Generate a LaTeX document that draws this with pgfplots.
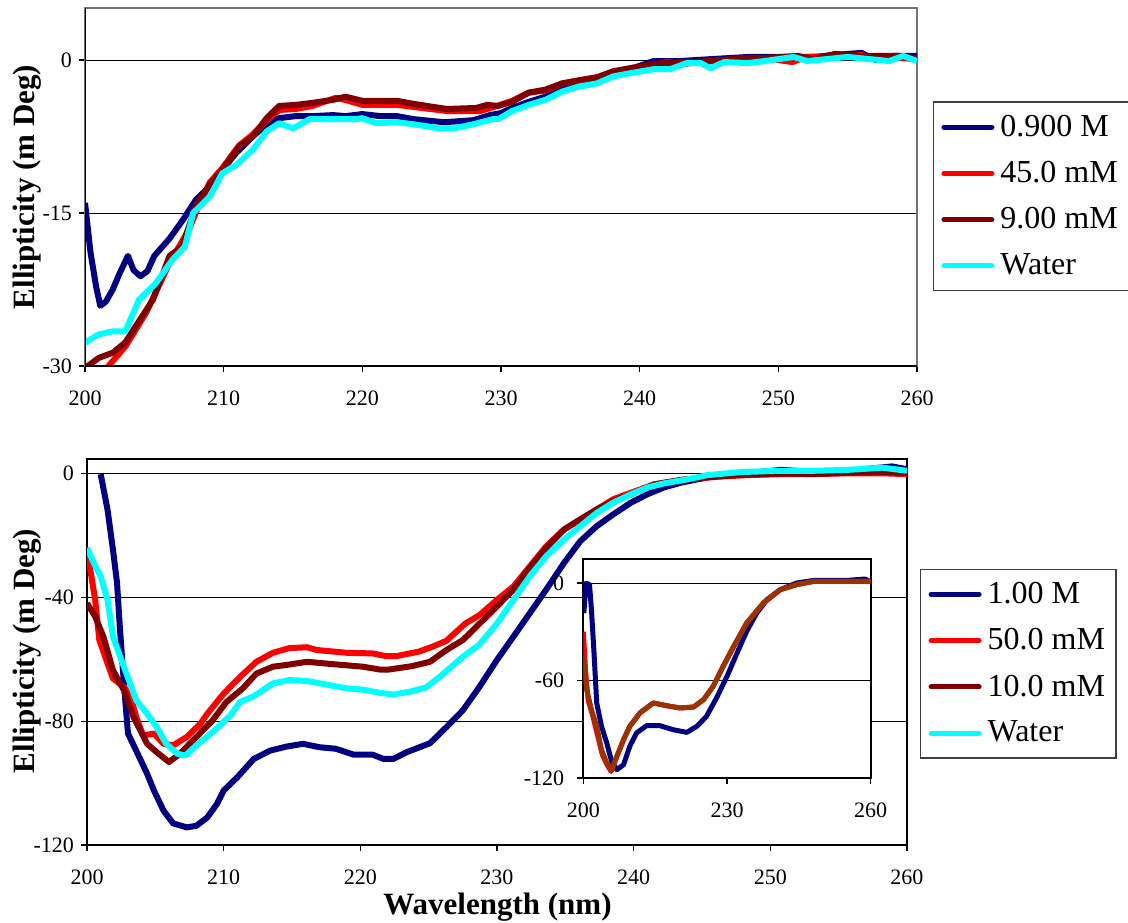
\documentclass[border=0pt]{standalone}
\usepackage{pgfplots}
\pgfplotsset{compat=1.18}
\usepackage{fontspec}
\setmainfont{Liberation Serif}
\definecolor{cnavy}{HTML}{000080}
\definecolor{cred}{HTML}{FF0000}
\definecolor{cdark}{HTML}{800000}
\definecolor{ccyan}{HTML}{00FFFF}
\definecolor{cbrown}{HTML}{993300}
\pgfplotsset{
  myleg/.style={
    legend cell align=left,
    legend image code/.code={\draw[##1, line width=2.5pt, line cap=round] (0pt,0pt) -- (24pt,0pt);},
    legend style={draw=black!75, line width=0.6pt, fill=white,
      font=\fontsize{16}{19}\selectfont, row sep=8pt, inner xsep=4pt, inner ysep=5pt,
      nodes={inner sep=1.5pt},
      /tikz/every odd column/.append style={column sep=1.5pt}},
  },
  curve/.style={line width=3pt, line join=round, no markers},
}
\begin{document}
\begin{tikzpicture}[x=1pt,y=1pt]
\path[use as bounding box] (0,0) rectangle (564,-461);

% ---------------- top chart ----------------
\begin{axis}[at={(42.5pt,-183pt)}, anchor=south west, scale only axis,
  width=416pt, height=179pt,
  xmin=200, xmax=260, ymin=-30, ymax=5.1,
  xtick={200,210,...,260}, xticklabels={200,210,220,230,240,250,260},
  ytick={-30,-15,0}, yticklabels={-30,-15,{0\hspace{4.5pt}}},
  ymajorgrids, grid style={black, line width=0.5pt},
  axis line style={black!55, line width=0.7pt},
  tick align=outside, tick pos=left, major tick length=3pt,
  tick style={black, line width=0.6pt},
  ticklabel style={font=\fontsize{11}{13}\selectfont},
  xticklabel style={yshift=-6pt},
  myleg,
  legend style={at={(1.019,0.4735)}, anchor=west},
]
\addplot[curve, cnavy] coordinates {
(200.0,-14.0)(200.4,-18.9)(200.8,-22.2)(201.1,-24.1)(201.5,-23.7)(202.0,-22.5)
(202.5,-20.9)(203.1,-19.2)(203.5,-20.6)(204.0,-21.2)(204.5,-20.7)(205.0,-19.2)
(206.1,-17.5)(207.0,-15.8)(208.0,-13.7)(209.0,-12.4)(209.9,-10.8)(210.9,-9.1)
(212.1,-7.5)(213.1,-6.3)(214.0,-5.7)(215.2,-5.5)(216.4,-5.5)(217.9,-5.4)
(218.8,-5.5)(220.0,-5.3)(221.3,-5.5)(222.5,-5.5)(223.7,-5.8)(225.9,-6.1)
(228.0,-5.9)(229.2,-5.4)(230.0,-5.2)(230.8,-4.7)(232.0,-4.1)(233.2,-3.6)
(234.4,-2.7)(235.6,-2.4)(236.9,-1.9)(238.1,-1.3)(239.3,-0.9)(241.0,-0.1)
(242.9,-0.1)(245.3,0.1)(247.8,0.3)(250.2,0.3)(252.6,0.3)(254.1,0.5)
(256.0,0.7)(257.0,0.0)(258.2,0.4)(260.0,0.4)};
\addlegendentry{0.900 M}
\addplot[curve, cred] coordinates {
(200.0,-32.0)(201.5,-30.3)(202.9,-28.1)(204.4,-24.8)(206.1,-19.9)(207.5,-16.6)
(208.2,-14.3)(209.0,-12.0)(209.9,-10.6)(211.1,-8.4)(212.1,-7.3)(213.1,-5.9)
(214.0,-4.9)(215.2,-4.8)(216.4,-4.5)(218.1,-3.7)(219.0,-4.0)(220.0,-4.4)
(222.5,-4.4)(223.7,-4.6)(226.1,-5.0)(228.5,-5.0)(229.5,-4.6)(230.8,-4.0)
(232.0,-3.2)(233.2,-3.0)(234.4,-2.3)(235.6,-2.0)(236.9,-1.7)(238.1,-1.2)
(239.3,-0.9)(241.0,-0.5)(242.0,-0.2)(243.0,-0.4)(245.3,-0.1)(247.3,0.1)
(249.0,0.2)(251.0,-0.2)(252.0,0.3)(254.1,0.4)(256.0,0.5)(257.5,0.0)
(258.6,0.2)(260.0,0.1)};
\addlegendentry{45.0 mM}
\addplot[curve, cdark] coordinates {
(200.0,-30.2)(201.0,-29.2)(202.0,-28.7)(202.9,-27.7)(203.9,-25.6)(204.9,-23.5)
(206.1,-19.2)(207.0,-18.3)(208.0,-14.3)(209.0,-12.2)(209.9,-10.8)(211.1,-8.5)
(212.1,-7.5)(213.1,-5.7)(214.0,-4.5)(215.2,-4.4)(216.4,-4.2)(217.9,-3.9)
(218.8,-3.6)(220.0,-4.0)(222.5,-4.0)(223.7,-4.3)(226.1,-4.8)(228.2,-4.7)
(229.0,-4.4)(229.8,-4.5)(230.8,-4.1)(232.0,-3.2)(233.2,-2.9)(234.4,-2.3)
(235.6,-2.0)(236.9,-1.7)(238.1,-1.1)(239.3,-0.8)(241.0,-0.4)(242.9,-0.2)
(245.3,-0.1)(247.3,0.2)(249.0,0.2)(251.4,0.4)(252.5,0.1)(254.1,0.6)
(256.2,0.4)(258.6,0.4)(260.0,0.1)};
\addlegendentry{9.00 mM}
\addplot[curve, ccyan] coordinates {
(200.0,-27.7)(201.0,-26.9)(202.0,-26.6)(202.9,-26.6)(203.9,-23.5)(205.1,-21.9)
(206.3,-19.6)(207.2,-18.3)(207.8,-15.0)(209.0,-13.4)(209.9,-11.1)(210.9,-10.3)
(212.1,-8.8)(213.1,-7.0)(214.0,-6.2)(215.0,-6.7)(216.2,-5.8)(217.6,-5.8)
(219.5,-5.8)(220.0,-5.7)(221.0,-6.2)(222.5,-6.1)(223.7,-6.3)(225.6,-6.7)
(226.6,-6.7)(228.0,-6.3)(229.4,-5.8)(229.8,-5.8)(230.8,-5.0)(232.0,-4.4)
(233.2,-3.9)(234.4,-3.1)(235.6,-2.6)(236.9,-2.3)(238.1,-1.6)(239.3,-1.3)
(241.0,-0.9)(242.2,-0.9)(243.4,-0.3)(244.4,-0.3)(245.1,-0.8)(246.1,-0.2)
(247.8,-0.3)(249.0,-0.1)(251.1,0.3)(252.1,-0.1)(255.0,0.3)(258.0,-0.1)
(259.0,0.4)(260.0,-0.1)};
\addlegendentry{Water}
\draw[black, line width=0.7pt] (rel axis cs:0,1) -- (rel axis cs:0,0) -- (rel axis cs:1,0);
\end{axis}

% ---------------- bottom chart ----------------
\begin{axis}[at={(43.5pt,-422.5pt)}, anchor=south west, scale only axis,
  width=410pt, height=193pt,
  xmin=200, xmax=260, ymin=-120, ymax=4.7,
  xtick={200,210,...,260}, xticklabels={200,210,220,230,240,250,260},
  ytick={-120,-80,-40,0}, yticklabels={-120,-80,-40,{0\hspace{4pt}}},
  ymajorgrids, grid style={black, line width=0.5pt},
  axis line style={black, line width=0.9pt},
  tick align=outside, tick pos=left, major tick length=3pt,
  tick style={black, line width=0.6pt},
  ticklabel style={font=\fontsize{11}{13}\selectfont},
  xticklabel style={yshift=-6pt},
  myleg,
  legend style={at={(1.0159,0.47)}, anchor=west},
]
\addplot[curve, cnavy] coordinates {
(201.0,-0.2)(201.5,-11.6)(201.9,-24.6)(202.2,-35.4)(202.4,-49.4)(202.7,-67.8)
(203.0,-84.0)(203.6,-89.5)(204.4,-97.0)(204.9,-102.4)(205.6,-108.9)(206.3,-113.0)
(207.3,-114.3)(208.0,-113.8)(208.8,-111.1)(209.5,-106.8)(210.0,-102.4)(211.0,-98.1)
(212.2,-92.2)(213.4,-89.5)(214.6,-88.2)(215.8,-87.3)(217.0,-88.4)(218.2,-88.9)
(219.5,-90.8)(220.9,-90.8)(221.7,-92.2)(222.4,-92.2)(223.4,-90.0)(225.1,-87.1)
(226.3,-81.9)(227.5,-76.5)(228.7,-69.0)(230.0,-60.2)(231.2,-52.7)(232.4,-45.1)
(233.6,-37.5)(234.9,-28.9)(236.1,-21.8)(237.3,-17.0)(238.5,-13.2)(239.8,-9.4)
(241.0,-6.7)(242.2,-4.5)(243.5,-2.9)(245.9,-0.8)(248.3,0.1)(250.8,1.2)
(253.2,0.5)(255.7,0.9)(258.9,2.3)(260.0,1.4)};
\addlegendentry{1.00 M}
\addplot[curve, cred] coordinates {
(200.0,-26.7)(200.2,-30.0)(200.6,-40.8)(200.9,-53.8)(201.5,-61.3)(201.9,-66.2)
(202.7,-68.9)(203.2,-72.1)(203.6,-78.6)(204.1,-84.6)(204.9,-84.0)(205.6,-87.3)
(206.3,-87.8)(207.3,-85.1)(208.3,-80.8)(208.8,-77.6)(210.0,-71.1)(211.2,-65.7)
(212.4,-60.8)(213.6,-57.9)(214.8,-56.4)(216.1,-56.1)(216.8,-57.0)(219.0,-57.9)
(220.9,-58.1)(221.9,-59.0)(222.6,-59.0)(224.3,-57.5)(225.3,-55.9)(226.3,-54.0)
(227.7,-48.4)(228.7,-45.8)(230.0,-40.8)(231.2,-36.5)(232.4,-30.0)(233.6,-23.5)
(234.9,-18.1)(236.1,-14.8)(237.3,-11.6)(238.5,-8.3)(239.8,-6.2)(241.5,-3.5)
(243.5,-2.1)(245.9,-1.1)(248.3,-0.5)(250.8,-0.2)(253.2,-0.2)(255.7,0.1)
(258.2,0.1)(260.0,-0.2)};
\addlegendentry{50.0 mM}
\addplot[curve, cdark] coordinates {
(200.0,-41.9)(200.6,-46.2)(201.2,-52.7)(201.9,-63.5)(202.7,-70.0)(203.4,-78.6)
(204.4,-87.3)(205.1,-90.0)(206.0,-93.2)(206.8,-90.5)(208.0,-85.1)(209.2,-79.7)
(210.2,-73.8)(211.4,-69.4)(212.4,-64.6)(213.6,-62.4)(214.8,-61.7)(216.1,-60.8)
(217.8,-61.5)(220.2,-62.4)(221.4,-63.3)(222.1,-63.3)(223.8,-62.2)(225.1,-60.8)
(226.3,-57.0)(227.5,-53.8)(228.7,-48.6)(230.0,-42.9)(231.2,-37.5)(232.4,-30.5)
(233.6,-24.0)(234.9,-18.1)(236.1,-14.8)(237.3,-11.6)(238.5,-8.9)(239.8,-6.7)
(241.5,-3.5)(243.5,-2.0)(245.9,-1.0)(248.3,-0.3)(250.8,0.0)(253.2,-0.2)
(255.7,0.3)(258.2,0.5)(260.0,0.2)};
\addlegendentry{10.0 mM}
\addplot[curve, ccyan] coordinates {
(200.0,-24.0)(200.5,-28.9)(201.0,-33.2)(201.5,-40.8)(201.9,-52.7)(202.7,-62.4)
(203.6,-73.2)(204.4,-77.6)(205.1,-81.9)(205.8,-87.3)(206.6,-90.5)(207.2,-91.1)
(208.0,-87.8)(209.2,-83.5)(210.5,-78.1)(211.2,-73.8)(212.2,-71.9)(213.6,-67.8)
(214.8,-66.7)(216.1,-67.0)(217.8,-68.4)(219.0,-69.4)(220.2,-69.8)(221.4,-70.8)
(222.4,-71.4)(223.6,-70.5)(224.8,-69.1)(225.8,-65.7)(227.5,-59.2)(228.7,-55.3)
(230.0,-48.4)(231.2,-40.8)(232.4,-33.2)(233.6,-26.7)(234.9,-21.3)(236.1,-17.0)
(237.3,-12.7)(238.5,-9.4)(239.8,-6.7)(241.0,-4.5)(242.2,-3.2)(244.0,-1.8)
(245.4,-0.5)(247.9,0.5)(250.8,0.9)(253.2,0.9)(255.7,1.2)(258.2,1.9)(260.0,0.9)};
\addlegendentry{Water}
\end{axis}

% ---------------- inset ----------------
\begin{axis}[at={(291.65pt,-389pt)}, anchor=south west, scale only axis,
  width=143.7pt, height=109.5pt,
  axis background/.style={fill=white},
  xmin=200, xmax=260, ymin=-120, ymax=14.8,
  xtick={200,230,260}, xticklabels={200,230,260},
  ytick={-120,-60,0}, yticklabels={-120,-60,0},
  ymajorgrids, grid style={black, line width=0.5pt},
  axis line style={black, line width=0.9pt},
  tick align=outside, tick pos=left, major tick length=3pt,
  tick style={black, line width=0.6pt},
  ticklabel style={font=\fontsize{11}{13}\selectfont},
  xticklabel style={yshift=-6pt},
  yticklabel style={xshift=-3pt},
]
\addplot[line width=2.5pt, line join=round, no markers, cnavy] coordinates {
(200.1,-18.5)(200.6,0.0)(201.3,-1.0)(201.7,-16.4)(202.2,-41.0)(202.8,-73.8)
(203.8,-88.2)(204.9,-98.5)(205.9,-109.7)(207.0,-114.9)(208.4,-111.8)(209.7,-100.5)
(211.1,-92.3)(213.2,-87.8)(216.0,-87.8)(218.8,-90.3)(221.6,-91.9)(223.7,-88.2)
(225.7,-82.1)(227.8,-70.8)(230.0,-57.4)(232.1,-43.1)(234.1,-29.7)(236.2,-18.5)
(238.3,-10.3)(241.1,-4.1)(244.5,0.0)(248.0,1.6)(255.0,1.6)(258.8,2.5)(259.8,1.0)};
\addplot[line width=2.5pt, line join=round, no markers, cred] coordinates {
(200.0,-30.0)(200.5,-55.0)(201.0,-72.0)(202.0,-82.0)(203.0,-94.0)(204.0,-106.0)
(205.0,-112.0)(205.8,-116.0)(207.0,-106.7)(208.4,-96.4)(209.7,-88.2)(211.8,-80.0)
(214.6,-73.8)(217.4,-75.5)(220.2,-76.9)(223.0,-76.3)(225.1,-71.8)(227.1,-63.6)
(229.2,-51.3)(231.4,-39.0)(234.1,-24.6)(237.6,-12.3)(241.1,-4.1)(244.5,-1.0)
(248.0,1.0)(260.0,1.0)};
\addplot[line width=2.5pt, line join=round, no markers, cbrown] coordinates {
(200.0,-45.0)(200.7,-65.6)(201.7,-78.0)(202.8,-88.2)(203.8,-102.6)(204.9,-110.8)
(205.9,-115.3)(207.0,-106.7)(208.4,-96.4)(209.7,-88.2)(211.8,-80.0)(214.6,-73.8)
(217.4,-75.5)(220.2,-76.9)(223.0,-76.3)(225.1,-71.8)(227.1,-63.6)(229.2,-51.3)
(231.4,-39.0)(234.1,-24.6)(237.6,-12.3)(241.1,-4.1)(244.5,-1.0)(248.0,1.0)(260.0,1.0)};
\end{axis}

% axis titles
\node[rotate=90, font=\fontsize{15.5}{18}\selectfont\bfseries, anchor=center] at (13.5,-93.5) {Ellipticity (m Deg)};
\node[rotate=90, font=\fontsize{15.5}{18}\selectfont\bfseries, anchor=center] at (13.75,-325.5) {Ellipticity (m Deg)};
\node[font=\fontsize{15.5}{18}\selectfont\bfseries, anchor=base] at (248.75,-457.3) {Wavelength (nm)};
\end{tikzpicture}
\end{document}
